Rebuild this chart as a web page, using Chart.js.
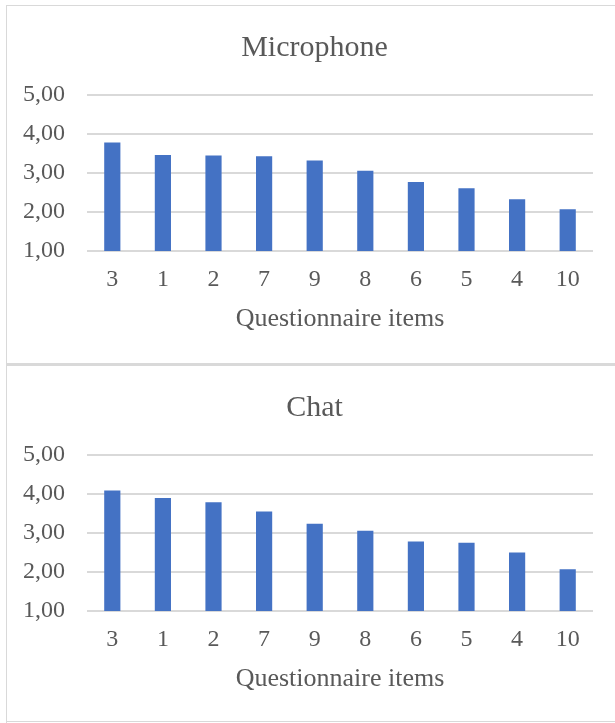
<!DOCTYPE html>
<html>
<head>
<meta charset="utf-8">
<script src="https://cdn.jsdelivr.net/npm/chart.js@4/dist/chart.umd.min.js"></script>
<style>
  html, body { margin: 0; padding: 0; background: #ffffff; }
  body { position: relative; width: 615px; height: 723px; overflow: hidden; }
  .frame { position: absolute; background: #d9d9d9; }
  canvas { position: absolute; left: 0; }
</style>
</head>
<body>
<!-- panel frames -->
<div class="frame" style="left:6px;top:5px;width:1px;height:718px;"></div>
<div class="frame" style="left:6px;top:5px;width:609px;height:1px;"></div>
<div class="frame" style="left:6px;top:363px;width:609px;height:3px;"></div>
<div class="frame" style="left:6px;top:721px;width:609px;height:1px;"></div>

<canvas id="micChart" width="628" height="363" style="top:0px;"></canvas>
<canvas id="chatChart" width="628" height="363" style="top:360px;"></canvas>

<script>
// Questionnaire items, ordered as shown on the x axis
const categories = ['3', '1', '2', '7', '9', '8', '6', '5', '4', '10'];

// Mean scores per item
const microphoneValues = [3.78, 3.46, 3.45, 3.43, 3.32, 3.06, 2.77, 2.61, 2.33, 2.07];
const chatValues       = [4.09, 3.90, 3.79, 3.55, 3.24, 3.06, 2.78, 2.75, 2.50, 2.07];

// Value axis range
const yMin = 1;
const yMax = 5;
const yStep = 1;

const textColor = '#595959';
const gridColor = '#d9d9d9';
const barColor = '#4472c4';
const serif = "'Liberation Serif', 'Times New Roman', serif";

function makeChart(canvasId, title, values) {
  return new Chart(document.getElementById(canvasId), {
    type: 'bar',
    data: {
      labels: categories,
      datasets: [{
        label: title,
        data: values,
        backgroundColor: barColor,
        borderWidth: 0,
        barPercentage: 0.32,
        categoryPercentage: 1.0
      }]
    },
    options: {
      responsive: false,
      animation: false,
      devicePixelRatio: 1,
      layout: { padding: { left: 1, right: 0, top: 0, bottom: 31 } },
      plugins: {
        legend: { display: false },
        tooltip: { enabled: false },
        title: {
          display: true,
          text: title,
          color: textColor,
          font: { family: serif, size: 30, weight: 'normal' },
          padding: { top: 30, bottom: 29 }
        }
      },
      scales: {
        x: {
          grid: { display: false, drawTicks: false },
          border: { display: false },
          ticks: {
            color: textColor,
            font: { family: serif, size: 24, lineHeight: 1.0 },
            padding: 17,
            maxRotation: 0
          },
          title: {
            display: true,
            text: 'Questionnaire items',
            color: textColor,
            font: { family: serif, size: 26, lineHeight: 1.0 },
            padding: { top: -3, bottom: 0 }
          }
        },
        y: {
          min: yMin,
          max: yMax,
          grid: { color: gridColor, lineWidth: 2, drawTicks: false },
          border: { display: false },
          ticks: {
            stepSize: yStep,
            color: textColor,
            font: { family: serif, size: 24 },
            padding: 22,
            callback: v => v.toFixed(2).replace('.', ',')
          }
        },
        // empty right-hand margin axis; keeps the plot's right edge inside the frame
        margin: {
          type: 'linear',
          position: 'right',
          display: true,
          grid: { display: false, drawTicks: false },
          border: { display: false },
          ticks: { display: false },
          afterFit: scale => { scale.width = 35; }
        }
      }
    }
  });
}

makeChart('micChart', 'Microphone', microphoneValues);
makeChart('chatChart', 'Chat', chatValues);
</script>
</body>
</html>
